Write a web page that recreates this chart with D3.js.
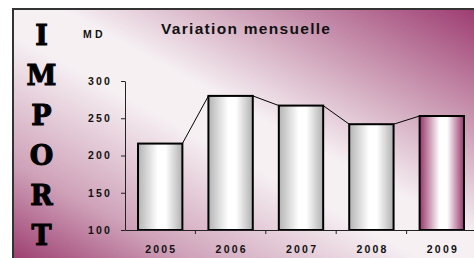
<!DOCTYPE html>
<html>
<head>
<meta charset="utf-8">
<script src="https://cdn.jsdelivr.net/npm/d3@7"></script>
<style>
  body { margin: 0; background: #fff; }
  text { font-family: Arial, "Liberation Sans", sans-serif; }
</style>
</head>
<body>
<div id="chart"></div>
<script>
// data
const years = ["2005", "2006", "2007", "2008", "2009"];
const imports = [216, 280, 267, 242, 253];
const yTicks = [100, 150, 200, 250, 300];
const sideLetters = ["I", "M", "P", "O", "R", "T"];

const W = 474, H = 258;
const plot = {left: 125, right: 477, top: 81, bottom: 230};

const svg = d3.select("#chart")
    .append("svg")
    .attr("width", W)
    .attr("height", H);

const defs = svg.append("defs");

// chart background: purple in two corners, white along the diagonal
const bg = defs.append("linearGradient")
    .attr("id", "bg")
    .attr("x1", 1).attr("y1", 0).attr("x2", 0).attr("y2", 1);
[[0, "#9c3a70"], [0.2, "#c48ca9"], [0.45, "#f6f0f3"], [0.55, "#f6f0f3"], [0.8, "#cfa2b9"], [1, "#9a386c"]]
    .forEach(s => bg.append("stop").attr("offset", s[0]).attr("stop-color", s[1]));

// cylinder look for the bars
function barGrad(id, edgeL, edgeR) {
  const g = defs.append("linearGradient").attr("id", id)
      .attr("x1", 0).attr("y1", 0).attr("x2", 1).attr("y2", 0);
  g.append("stop").attr("offset", 0).attr("stop-color", edgeL);
  g.append("stop").attr("offset", 0.45).attr("stop-color", "#ffffff");
  g.append("stop").attr("offset", 0.62).attr("stop-color", "#ffffff");
  g.append("stop").attr("offset", 1).attr("stop-color", edgeR);
}
barGrad("barGray", "#b4b4b4", "#b0b0b0");
barGrad("barPurple", "#98366a", "#98366a");

svg.append("rect")
    .attr("x", 13).attr("y", 9)
    .attr("width", 468).attr("height", 256)
    .attr("fill", "url(#bg)")
    .attr("stroke", "#333")
    .attr("stroke-width", 2);

// scales
const x = d3.scaleBand()
    .domain(years)
    .range([plot.left, plot.right])
    .paddingInner(0.37)
    .paddingOuter(0.185);

const y = d3.scaleLinear()
    .domain([100, 300])
    .range([plot.bottom, plot.top]);

// bars
svg.append("g")
    .selectAll("rect")
    .data(years)
    .join("rect")
    .attr("x", d => x(d))
    .attr("y", (d, i) => y(imports[i]))
    .attr("width", x.bandwidth())
    .attr("height", (d, i) => y(100) - y(imports[i]))
    .attr("fill", d => d === "2009" ? "url(#barPurple)" : "url(#barGray)")
    .attr("stroke", "#000")
    .attr("stroke-width", 2);

// series lines between bar tops
svg.append("g")
    .selectAll("line")
    .data(years.slice(1))
    .join("line")
    .attr("x1", (d, i) => x(years[i]) + x.bandwidth())
    .attr("y1", (d, i) => y(imports[i]))
    .attr("x2", d => x(d))
    .attr("y2", (d, i) => y(imports[i + 1]))
    .attr("stroke", "#000")
    .attr("stroke-width", 1);

// y axis
const yAxis = svg.append("g")
    .attr("transform", `translate(${plot.left},0)`)
    .call(d3.axisLeft(y).tickValues(yTicks).tickSize(4).tickSizeOuter(0).tickPadding(9));
yAxis.select(".domain").attr("stroke", "#222");
yAxis.selectAll(".tick line").attr("stroke", "#222");
yAxis.selectAll("text")
    .attr("font-size", 10.5)
    .attr("font-weight", "bold")
    .attr("letter-spacing", 2.2)
    .attr("fill", "#111");

// x axis: labels centred, ticks between categories
const xAxis = svg.append("g")
    .attr("transform", `translate(0,${plot.bottom})`)
    .call(d3.axisBottom(x).tickSize(0).tickSizeOuter(0).tickPadding(16));
xAxis.select(".domain").attr("stroke", "#222");
xAxis.selectAll("text")
    .attr("font-size", 10.5)
    .attr("font-weight", "bold")
    .attr("letter-spacing", 2.2)
    .attr("dx", 1.1)
    .attr("fill", "#111");
xAxis.append("g")
    .selectAll("line")
    .data(years.slice(1))
    .join("line")
    .attr("x1", d => x(d) - x.step() * x.paddingInner() / 2)
    .attr("x2", d => x(d) - x.step() * x.paddingInner() / 2)
    .attr("y1", 0).attr("y2", 4)
    .attr("stroke", "#222");

// title and unit
svg.append("text")
    .attr("x", 161).attr("y", 34)
    .attr("font-size", 15.5)
    .attr("font-weight", "bold")
    .attr("letter-spacing", 1.3)
    .attr("fill", "#111")
    .text("Variation mensuelle");

svg.append("text")
    .attr("x", 83).attr("y", 37.5)
    .attr("font-size", 10.5)
    .attr("font-weight", "bold")
    .attr("letter-spacing", 3.2)
    .attr("fill", "#111")
    .text("MD");

// vertical word on the left
svg.append("g")
    .selectAll("text")
    .data(sideLetters)
    .join("text")
    .attr("x", 41.5)
    .attr("y", (d, i) => 45 + i * 40)
    .attr("text-anchor", "middle")
    .style("font-family", "'DejaVu Serif', serif")
    .attr("font-size", 27)
    .attr("font-weight", "bold")
    .attr("fill", "#000")
    .attr("stroke", "#000")
    .attr("stroke-width", 1)
    .text(d => d);
</script>
</body>
</html>
